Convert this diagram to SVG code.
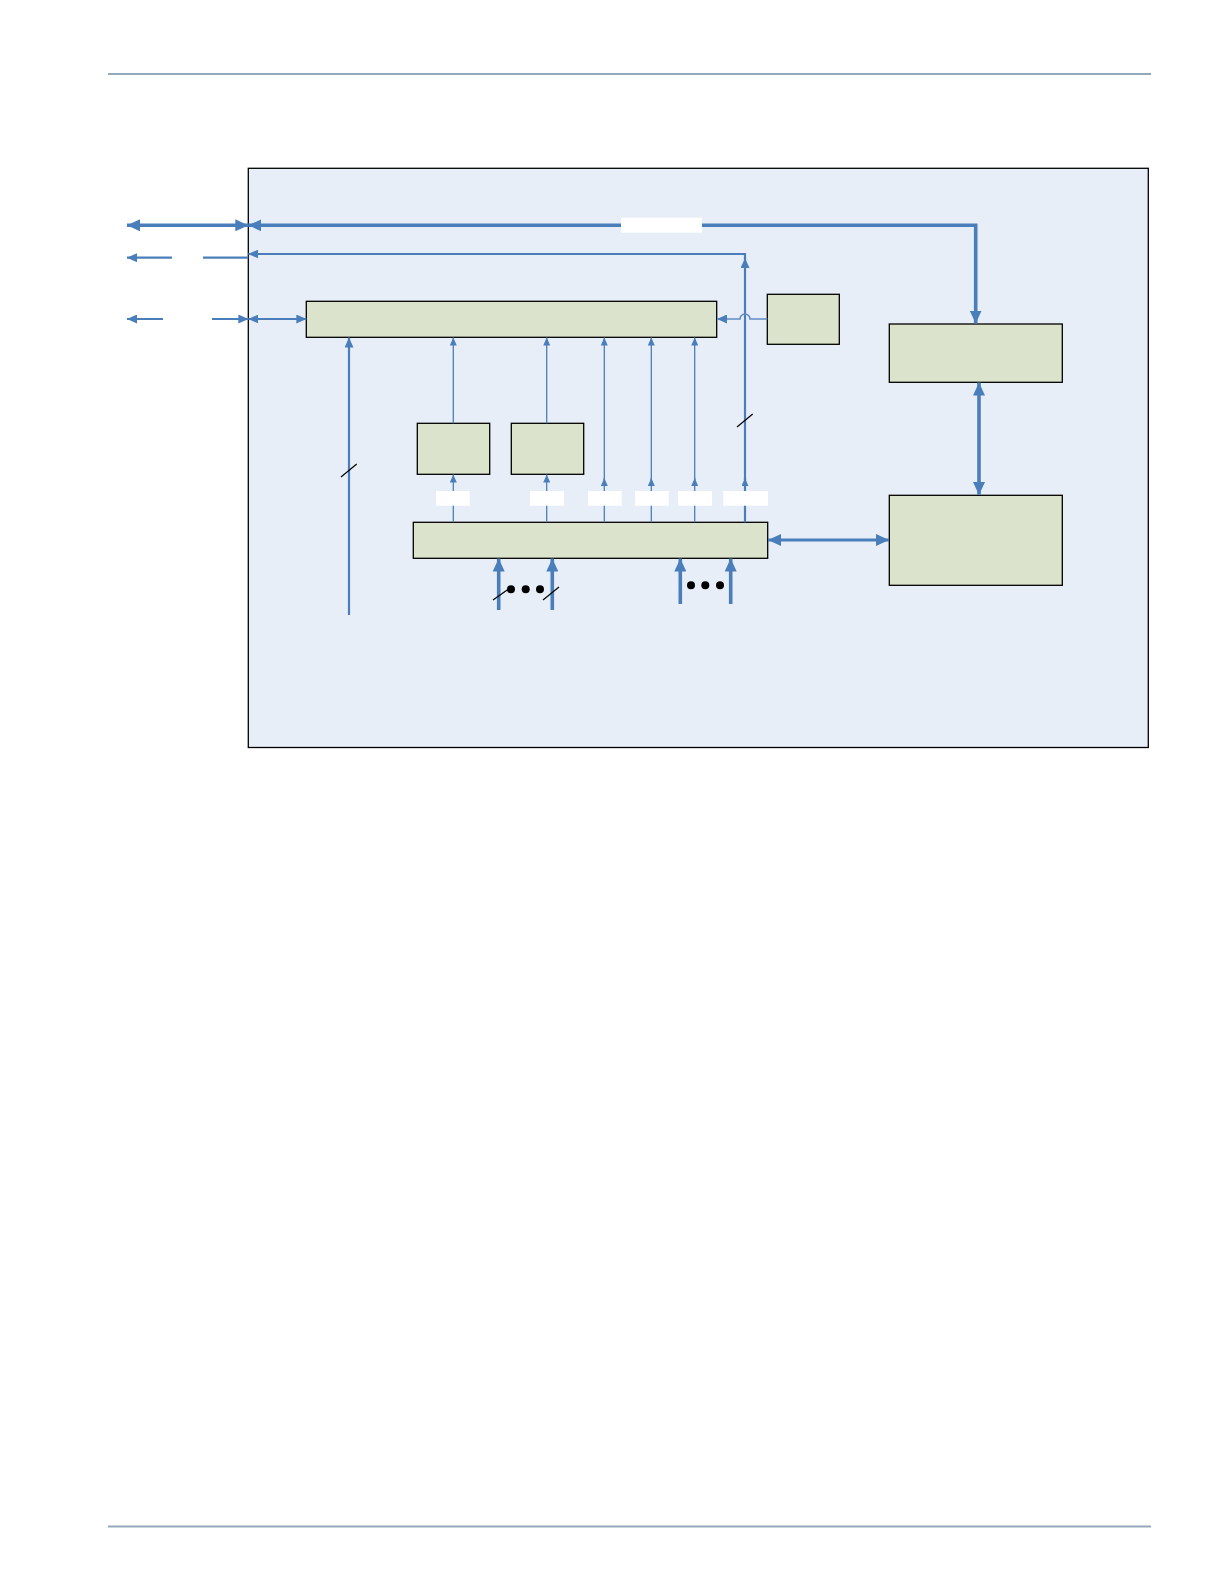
<svg xmlns="http://www.w3.org/2000/svg" width="1224" height="1584" viewBox="0 0 1224 1584">
<style>
.rule{stroke:#93a9bb;stroke-width:2.2;fill:none}
.outer{fill:#e8eef8;stroke:#000;stroke-width:1.3}
.box{fill:#dce3cc;stroke:#000;stroke-width:1.3}
.thick{stroke:#4a7ebb;stroke-width:3.6;fill:none}
.med{stroke:#4a7ebb;stroke-width:2.2;fill:none}
.thin{stroke:#4a7ebb;stroke-width:1.3;fill:none}
.lbl{fill:#ffffff}
.slash{stroke:#000;stroke-width:1.2}
.dot{fill:#000}
</style>
<defs>
<marker id="aL" markerUnits="userSpaceOnUse" markerWidth="13" markerHeight="12" viewBox="0 0 13 12" refX="13" refY="6" orient="auto-start-reverse"><path d="M0,0 L13,6 L0,12 z" fill="#4a7ebb"/></marker>
<marker id="aM" markerUnits="userSpaceOnUse" markerWidth="10" markerHeight="9" viewBox="0 0 10 9" refX="10" refY="4.5" orient="auto-start-reverse"><path d="M0,0 L10,4.5 L0,9 z" fill="#4a7ebb"/></marker>
<marker id="aS" markerUnits="userSpaceOnUse" markerWidth="8" markerHeight="7" viewBox="0 0 8 7" refX="8" refY="3.5" orient="auto-start-reverse"><path d="M0,0 L8,3.5 L0,7 z" fill="#4a7ebb"/></marker>
</defs>
<line class="rule" x1="108" y1="74" x2="1151" y2="74"/>
<line class="rule" x1="108" y1="1526.5" x2="1151" y2="1526.5"/>
<g id="outer"><rect class="outer" x="248.3" y="168.3" width="900" height="579.2"/></g>
<g id="box-top-bus"><rect class="box" x="306.3" y="301.3" width="410.4" height="36"/></g>
<g id="box-small-right"><rect class="box" x="767.3" y="294.3" width="72" height="50"/></g>
<g id="box-right-top"><rect class="box" x="889.3" y="324" width="173" height="58.3"/></g>
<g id="box-right-bottom"><rect class="box" x="889.3" y="495.3" width="173" height="90"/></g>
<g id="box-small-1"><rect class="box" x="417.3" y="423.3" width="72.4" height="51"/></g>
<g id="box-small-2"><rect class="box" x="511.3" y="423.3" width="72.4" height="51"/></g>
<g id="box-bottom-bus"><rect class="box" x="413.3" y="522.3" width="354.4" height="36"/></g>
<g id="connectors">
<path class="thick" d="M127,225.3 H248.3" marker-start="url(#aL)" marker-end="url(#aL)"/>
<path class="thick" d="M248.3,225.3 H975.7 V323.5" marker-start="url(#aL)" marker-end="url(#aL)"/>
<path class="thick" d="M979,382.5 V495" marker-start="url(#aL)" marker-end="url(#aL)"/>
<path class="med" d="M768,540 H889" marker-start="url(#aL)" marker-end="url(#aL)" style="stroke-width:3"/>
<path class="med" d="M172,257.7 H127" marker-end="url(#aM)"/>
<path class="med" d="M203,257.7 H248.3"/>
<path class="med" d="M745,254 H248.3" marker-end="url(#aM)"/>
<path class="med" d="M745,522.3 V478" marker-end="url(#aS)"/>
<path class="med" d="M745,480 V258" marker-end="url(#aM)"/>
<line class="med" x1="745" y1="259" x2="745" y2="253"/>
<path class="med" d="M163,319 H127" marker-end="url(#aM)"/>
<path class="med" d="M212,319 H248.3" marker-end="url(#aM)"/>
<path class="med" d="M248.3,319 H306.3" marker-start="url(#aM)" marker-end="url(#aM)"/>
<path class="thin" d="M767.3,319 H750 A5,5 0 0 0 740,319 H717" marker-end="url(#aM)" style="stroke-width:1.6;stroke:#5f8cc6"/>
<path class="med" d="M349,615 V337.5" marker-end="url(#aM)"/>
<path class="thin" d="M453.3,522.3 V474.5" marker-end="url(#aS)"/>
<path class="thin" d="M453.3,423.3 V337.5" marker-end="url(#aS)"/>
<path class="thin" d="M546.7,522.3 V474.5" marker-end="url(#aS)"/>
<path class="thin" d="M546.7,423.3 V337.5" marker-end="url(#aS)"/>
<path class="thin" d="M604.3,522.3 V478" marker-end="url(#aS)"/>
<path class="thin" d="M604.3,480 V337.5" marker-end="url(#aS)"/>
<path class="thin" d="M651.3,522.3 V478" marker-end="url(#aS)"/>
<path class="thin" d="M651.3,480 V337.5" marker-end="url(#aS)"/>
<path class="thin" d="M694.7,522.3 V478" marker-end="url(#aS)"/>
<path class="thin" d="M694.7,480 V337.5" marker-end="url(#aS)"/>
<path class="thick" d="M498.7,610 V558.5" marker-end="url(#aL)"/>
<path class="thick" d="M552.3,610 V558.5" marker-end="url(#aL)"/>
<path class="thick" d="M680.3,604 V558.5" marker-end="url(#aL)"/>
<path class="thick" d="M730.7,604 V558.5" marker-end="url(#aL)"/>
</g>
<g id="labels">
<rect class="lbl" x="621" y="217.7" width="81" height="15"/>
<rect class="lbl" x="436" y="491" width="33.7" height="14.7"/>
<rect class="lbl" x="530" y="491" width="34" height="14.7"/>
<rect class="lbl" x="588" y="491" width="33.7" height="14.7"/>
<rect class="lbl" x="635" y="491" width="33.7" height="14.7"/>
<rect class="lbl" x="678" y="491" width="34" height="14.7"/>
<rect class="lbl" x="723.3" y="491" width="44.7" height="14.7"/>
</g>
<g id="marks">
<line class="slash" x1="341" y1="477" x2="356.7" y2="464"/>
<line class="slash" x1="737" y1="427" x2="752.7" y2="414"/>
<line class="slash" x1="493" y1="600" x2="510" y2="588"/>
<line class="slash" x1="543" y1="600" x2="559" y2="587"/>
<circle class="dot" cx="511" cy="589.3" r="4"/>
<circle class="dot" cx="525.7" cy="589.3" r="4"/>
<circle class="dot" cx="540" cy="589.3" r="4"/>
<circle class="dot" cx="691" cy="585.3" r="4"/>
<circle class="dot" cx="705.3" cy="585.3" r="4"/>
<circle class="dot" cx="720" cy="585.3" r="4"/>
</g>
</svg>
